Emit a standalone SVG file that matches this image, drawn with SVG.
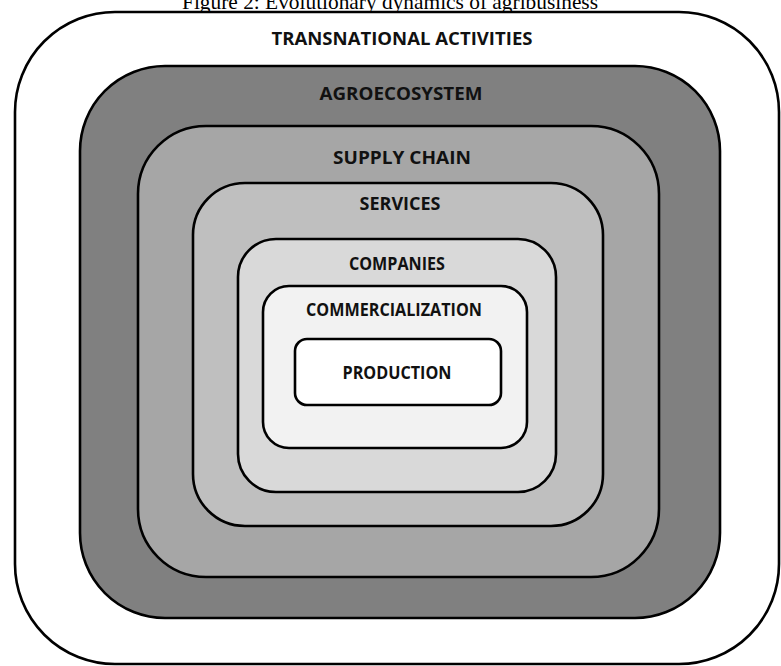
<svg xmlns="http://www.w3.org/2000/svg" width="781" height="666" viewBox="0 0 781 666">
  <style>
    .box { stroke: #000; stroke-width: 2.6; }
    .lbl { font-family: "Open Sans", "Liberation Sans", sans-serif; font-weight: 700; font-size: 17px; fill: #111; text-anchor: middle; }
    .title { font-family: "Liberation Serif", "Times New Roman", serif; font-size: 22px; fill: #000; text-anchor: middle; }
  </style>
  <rect width="781" height="666" fill="#fff"/>
  <text class="title" x="390" y="9" textLength="416" lengthAdjust="spacingAndGlyphs">Figure 2: Evolutionary dynamics of agribusiness</text>
  <g id="transnational">
    <rect class="box" x="15" y="12" width="764" height="652" rx="100" ry="100" fill="#ffffff"/>
    <text class="lbl" x="402" y="45" textLength="261" lengthAdjust="spacingAndGlyphs">TRANSNATIONAL ACTIVITIES</text>
  </g>
  <g id="agroecosystem">
    <rect class="box" x="80" y="66" width="640" height="552" rx="85" ry="85" fill="#808080"/>
    <text class="lbl" x="401" y="100" textLength="163" lengthAdjust="spacingAndGlyphs">AGROECOSYSTEM</text>
  </g>
  <g id="supply-chain">
    <rect class="box" x="138" y="126" width="521" height="451" rx="68" ry="68" fill="#a6a6a6"/>
    <text class="lbl" x="402" y="164" textLength="138" lengthAdjust="spacingAndGlyphs">SUPPLY CHAIN</text>
  </g>
  <g id="services">
    <rect class="box" x="193" y="183" width="410" height="343" rx="52" ry="52" fill="#bfbfbf"/>
    <text class="lbl" x="400" y="210" textLength="81" lengthAdjust="spacingAndGlyphs">SERVICES</text>
  </g>
  <g id="companies">
    <rect class="box" x="238" y="239" width="318" height="253" rx="38" ry="38" fill="#d9d9d9"/>
    <text class="lbl" x="397" y="270" textLength="96" lengthAdjust="spacingAndGlyphs">COMPANIES</text>
  </g>
  <g id="commercialization">
    <rect class="box" x="263" y="286" width="264" height="162" rx="26" ry="26" fill="#f2f2f2"/>
    <text class="lbl" x="394" y="316" textLength="176" lengthAdjust="spacingAndGlyphs">COMMERCIALIZATION</text>
  </g>
  <g id="production">
    <rect class="box" x="295" y="339" width="206" height="66" rx="12" ry="12" fill="#ffffff"/>
    <text class="lbl" x="397" y="379" textLength="109" lengthAdjust="spacingAndGlyphs">PRODUCTION</text>
  </g>
  <g id="connectors"/>
</svg>
